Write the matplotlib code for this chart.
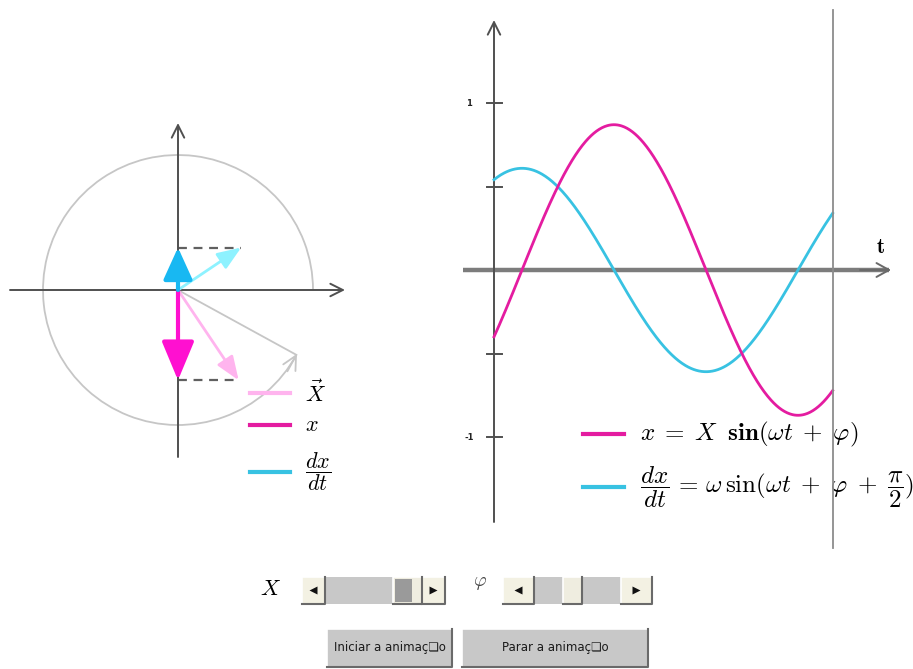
import numpy as np
import matplotlib
matplotlib.use("Agg")
import matplotlib.pyplot as plt
from matplotlib.patches import Arc, Rectangle, Polygon

plt.rcParams["mathtext.fontset"] = "cm"

W, H = 913, 669

# oscillator state: amplitude, angular frequency, initial phase, current time
X_AMP = 0.87
OMEGA = 0.70
PHI = -0.478
T_NOW = 8.26
CIRCLE_R = 1.08

Y_TICKS = [1.0, 0.5, -0.5, -1.0]
Y_TICK_LABELS = {1.0: "1", -1.0: "-1"}

# scrollbar thumb positions (0 = left end, 1 = right end)
SLIDER_NAMES = ["X", "phi"]
SLIDER_POS = [1.0, 0.42]
BUTTON_LABELS = ["Iniciar a animaç\u274fo", "Parar a animaç\u274fo"]

PINK = "#e41ca0"
PINK_ARROW = "#ff10d0"
PINK_LIGHT = "#ffb4ee"
CYAN = "#38c2e2"
CYAN_ARROW = "#18b8f2"
CYAN_LIGHT = "#8ef2ff"
AXIS = "#505050"
GREY = "#c6c6c6"


def frect(x, y, w, h):
    """pixel box (top-left origin) -> figure fraction rect"""
    return [x / W, 1 - (y + h) / H, w / W, h / H]


def fpt(x, y):
    return x / W, 1 - y / H


fig = plt.figure(figsize=(W / 100, H / 100), dpi=100)
fig.patch.set_facecolor("white")

# ---------------- phasor diagram ----------------
LS = 125.0  # px per unit
axl = fig.add_axes(frect(0, 100, 360, 400))
axl.set_xlim(-178 / LS, 182 / LS)
axl.set_ylim(-210 / LS, 190 / LS)
axl.axis("off")


def lpx(x, y):
    return (x - 178) / LS, (290 - y) / LS


def axis_arrow(ax, p0, p1, color, lw, hl=0.9, hw=0.45):
    ax.annotate("", xy=p1, xytext=p0,
                arrowprops=dict(arrowstyle=f"->,head_length={hl},head_width={hw}",
                                color=color, lw=lw, shrinkA=0, shrinkB=0))


axis_arrow(axl, (-1.344, 0), (1.336, 0), AXIS, 1.4)
axis_arrow(axl, (0, -1.336), (0, 1.336), AXIS, 1.4)

theta_t = OMEGA * T_NOW
theta = theta_t + PHI
axl.add_patch(Arc((0, 0), 2 * CIRCLE_R, 2 * CIRCLE_R, theta1=0,
                  theta2=np.degrees(theta_t), color=GREY, lw=1.3))
end = CIRCLE_R * np.array([np.cos(theta_t), np.sin(theta_t)])
tang = np.array([-np.sin(theta_t), np.cos(theta_t)])
axl.plot([0, end[0]], [0, end[1]], color=GREY, lw=1.3)
axl.annotate("", xy=end + 0.01 * tang, xytext=end - 0.15 * tang,
             arrowprops=dict(arrowstyle="->,head_length=1.0,head_width=0.5",
                             color=GREY, lw=1.3, shrinkA=0, shrinkB=0))

xp = X_AMP * np.array([np.cos(theta), np.sin(theta)])
vp = OMEGA * X_AMP * np.array([np.cos(theta + np.pi / 2), np.sin(theta + np.pi / 2)])

# rotating vectors
for vec, col in [(xp, PINK_LIGHT), (vp, CYAN_LIGHT)]:
    axl.annotate("", xy=vec, xytext=(0, 0),
                 arrowprops=dict(arrowstyle="-|>,head_length=0.9,head_width=0.35",
                                 color=col, lw=2, mutation_scale=16,
                                 shrinkA=0, shrinkB=0))

# projections on the vertical axis
for vec in (xp, vp):
    axl.plot([0, vec[0]], [vec[1], vec[1]], color="#606060", lw=1.6,
             dashes=(4, 3))

axl.annotate("", xy=(0, xp[1]), xytext=(0, 0),
             arrowprops=dict(arrowstyle="-|>,head_length=1.2,head_width=0.5",
                             color=PINK_ARROW, lw=3, mutation_scale=20,
                             shrinkA=0, shrinkB=0))
axl.annotate("", xy=(0, vp[1]), xytext=(0, 0),
             arrowprops=dict(arrowstyle="-|>,head_length=1.1,head_width=0.5",
                             color=CYAN_ARROW, lw=3, mutation_scale=18,
                             shrinkA=0, shrinkB=0))

# legend
for y, col, lab in [(393, PINK_LIGHT, r"$\vec{X}$"),
                    (425, PINK, r"$x$"),
                    (472, CYAN, r"$\dfrac{dx}{dt}$")]:
    a, b = lpx(250, y), lpx(290, y)
    axl.plot([a[0], b[0]], [a[1], b[1]], color=col, lw=3, clip_on=False)
    tx, ty = lpx(305, y)
    axl.text(tx, ty, lab, fontsize=16, va="center", ha="left", clip_on=False)

# ---------------- time plot ----------------
SX, SY = 41.0, 167.0
axr = fig.add_axes(frect(455, 0, 458, 560))
axr.set_xlim((455 - 494) / SX, (913 - 494) / SX)
axr.set_ylim((270 - 560) / SY, 270 / SY)
axr.axis("off")


def rpx(x, y):
    return (x - 494) / SX, (270 - y) / SY


t0, t1 = rpx(463, 270), rpx(891, 270)
axr.plot([t0[0], t1[0] - 0.05], [0, 0], color="#7c7c7c", lw=3.2, solid_capstyle="butt")
axis_arrow(axr, rpx(860, 270), t1, "#6a6a6a", 1.4, hl=0.9, hw=0.5)
axis_arrow(axr, rpx(494, 522), rpx(494, 20), AXIS, 1.4)
axr.text(*rpx(880, 247), r"$\mathbf{t}$", fontsize=15, ha="center", va="center")

for v in Y_TICKS:
    axr.plot([-7 / SX, 8 / SX], [v, v], color=AXIS, lw=1.4)
    if v in Y_TICK_LABELS:
        axr.text(-25 / SX, v, Y_TICK_LABELS[v], fontsize=6, fontweight="bold",
                 ha="center", va="center", color="#222222")

t = np.linspace(0, T_NOW, 500)
x_t = X_AMP * np.sin(OMEGA * t + PHI)
v_t = OMEGA * X_AMP * np.sin(OMEGA * t + PHI + np.pi / 2)
axr.plot(t, v_t, color=CYAN, lw=2, zorder=3)
axr.plot(t, x_t, color=PINK, lw=2, zorder=3)

axr.plot([T_NOW, T_NOW], [(270 - 548) / SY, (270 - 10) / SY], color="#8c8c8c",
         lw=1.3, zorder=6)

legend_r = [
    (434, PINK, r"$x\;=\;X\;\;\mathbf{sin}(\omega t\;+\;\varphi)$"),
    (487, CYAN, r"$\dfrac{dx}{dt}\,=\,\omega\,\mathrm{sin}(\omega t\;+\;\varphi\;+\;\dfrac{\pi}{2})$"),
]
for y, col, lab in legend_r:
    a, b = rpx(583, y), rpx(624, y)
    axr.plot([a[0], b[0]], [a[1], b[1]], color=col, lw=3)
    axr.text(*rpx(640, y), lab, fontsize=18, ha="left", va="center", zorder=4,
             clip_on=False)


# ---------------- controls ----------------
def bevel(x, y, w, h, face, raised=True):
    fig.add_artist(Rectangle(fpt(x, y + h), w / W, h / H, transform=fig.transFigure,
                             facecolor=face, edgecolor="none"))
    lt, dk = ("#ffffff", "#6a6a6a") if raised else ("#6a6a6a", "#ffffff")
    fig.add_artist(plt.Line2D([x / W, x / W, (x + w) / W],
                              [1 - (y + h) / H, 1 - y / H, 1 - y / H],
                              transform=fig.transFigure, color=lt, lw=1.2))
    fig.add_artist(plt.Line2D([x / W, (x + w) / W, (x + w) / W],
                              [1 - (y + h) / H, 1 - (y + h) / H, 1 - y / H],
                              transform=fig.transFigure, color=dk, lw=1.5))


def tri(cx, cy, direction):
    s = 4
    pts = [(cx + direction * s, cy), (cx - direction * s, cy - s), (cx - direction * s, cy + s)]
    fig.add_artist(Polygon([fpt(px, py) for px, py in pts], closed=True,
                           transform=fig.transFigure, facecolor="#111111",
                           edgecolor="none"))


def scrollbar(x0, x1, y, h, pos, thumb_w, btn_w, grip=False):
    fig.add_artist(Rectangle(fpt(x0, y + h), (x1 - x0) / W, h / H,
                             transform=fig.transFigure, facecolor="#c8c8c8",
                             edgecolor="none"))
    bevel(x0, y, btn_w, h, "#f3f1e3")
    bevel(x1 - btn_w, y, btn_w, h, "#f3f1e3")
    tri(x0 + btn_w / 2, y + h / 2, -1)
    tri(x1 - btn_w / 2, y + h / 2, 1)
    lo, hi = x0 + btn_w, x1 - btn_w - thumb_w
    tx = lo + pos * (hi - lo)
    bevel(tx, y, thumb_w, h, "#efede0")
    if grip:
        fig.add_artist(Rectangle(fpt(tx + 2, y + h - 2), (thumb_w * 0.6) / W, (h - 4) / H,
                                 transform=fig.transFigure, facecolor="#9a9a9a",
                                 edgecolor="none", hatch="||||", lw=0))


fig.text(*fpt(270, 589), r"$X$", fontsize=16, ha="center", va="center")
fig.text(*fpt(480, 582), r"$\varphi$", fontsize=14, ha="center", va="center",
         color="#444444")
scrollbar(302, 445, 577, 27, SLIDER_POS[0], 29, 23, grip=True)
scrollbar(503, 652, 577, 27, SLIDER_POS[1], 19, 31)

for (x, w), lab in zip([(327, 125), (462, 186)], BUTTON_LABELS):
    bevel(x, 629, w, 38, "#c8c8c8")
    fig.text(*fpt(x + w / 2, 648), lab, fontsize=8.5, ha="center", va="center",
             color="#1a1a1a")

fig.savefig("out.png", dpi=100, facecolor="white")
